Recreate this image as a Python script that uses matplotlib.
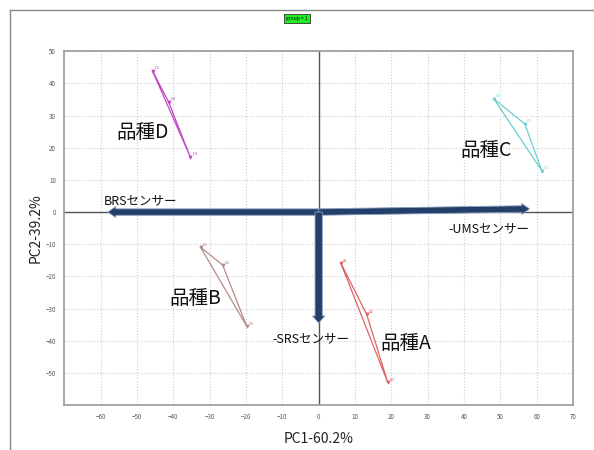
import matplotlib
matplotlib.use("Agg")
import matplotlib.pyplot as plt
from matplotlib.patches import FancyArrow

plt.rcParams['font.family'] = ['Noto Sans CJK JP', 'DejaVu Sans']

# PCA scores (3 samples per variety)
groups = ['品種A', '品種B', '品種C', '品種D']
pc1 = {
    '品種A': [6.1, 13.2, 19.0],
    '品種B': [-32.5, -26.4, -19.8],
    '品種C': [48.2, 56.7, 61.4],
    '品種D': [-45.7, -41.3, -35.3],
}
pc2 = {
    '品種A': [-15.9, -31.8, -53.0],
    '品種B': [-10.9, -16.5, -35.5],
    '品種C': [35.2, 27.4, 12.8],
    '品種D': [43.9, 34.3, 17.1],
}
point_ids = {
    '品種A': ['A1', 'A2', 'A3'],
    '品種B': ['B1', 'B2', 'B3'],
    '品種C': ['C1', 'C2', 'C3'],
    '品種D': ['D1', 'D2', 'D3'],
}
colors = {'品種A': '#e06464', '品種B': '#b98a8a', '品種C': '#6ccfcf', '品種D': '#c04cc0'}
label_pos = {'品種A': (24, -40.8), '品種B': (-33.9, -26.8), '品種C': (46, 19.3), '品種D': (-48.5, 24.6)}

# sensor loading arrows
sensors = ['BRSセンサー', '-UMSセンサー', '-SRSセンサー']
sensor_dx = [-58, 58, 0]
sensor_dy = [0, 1, -34.5]
sensor_text = [(-49, 3.6), (46.8, -5.3), (-2.2, -39.3)]

fig = plt.figure(figsize=(5.94, 4.5), dpi=100)
ax = fig.add_axes([0.108, 0.1, 0.857, 0.786])

# outer frame lines
fig.add_artist(plt.Line2D([0.017, 0.017], [0, 0.978], color='#888888', lw=1))
fig.add_artist(plt.Line2D([0.017, 1.0], [0.978, 0.978], color='#888888', lw=1))

# green group badge
fig.text(0.5, 0.958, 'group = 1', fontsize=3.5, ha='center', va='center',
         bbox=dict(boxstyle='square,pad=0.4', fc='#22ee22', ec='#333333', lw=0.6))

ax.set_xlim(-70, 70)
ax.set_ylim(-60, 50)
ax.set_xticks(range(-60, 71, 10))
ax.set_yticks(range(-50, 51, 10))
ax.tick_params(labelsize=4.5, colors='#555555', length=0, pad=6)
ax.grid(True, ls=':', color='#cccccc', lw=0.8)
for s in ax.spines.values():
    s.set_color('#999999')
    s.set_linewidth(1.2)
ax.axhline(0, color='#555555', lw=1)
ax.axvline(0, color='#555555', lw=1)

for g in groups:
    xs = pc1[g] + [pc1[g][0]]
    ys = pc2[g] + [pc2[g][0]]
    ax.plot(xs, ys, color=colors[g], lw=0.9)
    ax.scatter(pc1[g], pc2[g], color=colors[g], s=3, marker='v', zorder=3)
    for x, y, pid in zip(pc1[g], pc2[g], point_ids[g]):
        ax.text(x + 0.5, y + 0.5, pid, fontsize=3, color=colors[g])
    lx, ly = label_pos[g]
    ax.text(lx, ly, g, fontsize=14, ha='center', va='center', color='#111111')

for name, dx, dy, (tx, ty) in zip(sensors, sensor_dx, sensor_dy, sensor_text):
    arr = FancyArrow(0, 0, dx, dy, width=2.0, head_width=3.4, head_length=2.2,
                     length_includes_head=True, fc='#24406a', ec='#8aa0c0', lw=0.6, zorder=4)
    ax.add_patch(arr)
    ax.text(tx, ty, name, fontsize=9, ha='center', va='center', color='#111111')

ax.set_xlabel('PC1-60.2%', fontsize=10, color='#222222', labelpad=8)
ax.set_ylabel('PC2-39.2%', fontsize=10, color='#222222', labelpad=2)

fig.savefig('out.png', dpi=100)
